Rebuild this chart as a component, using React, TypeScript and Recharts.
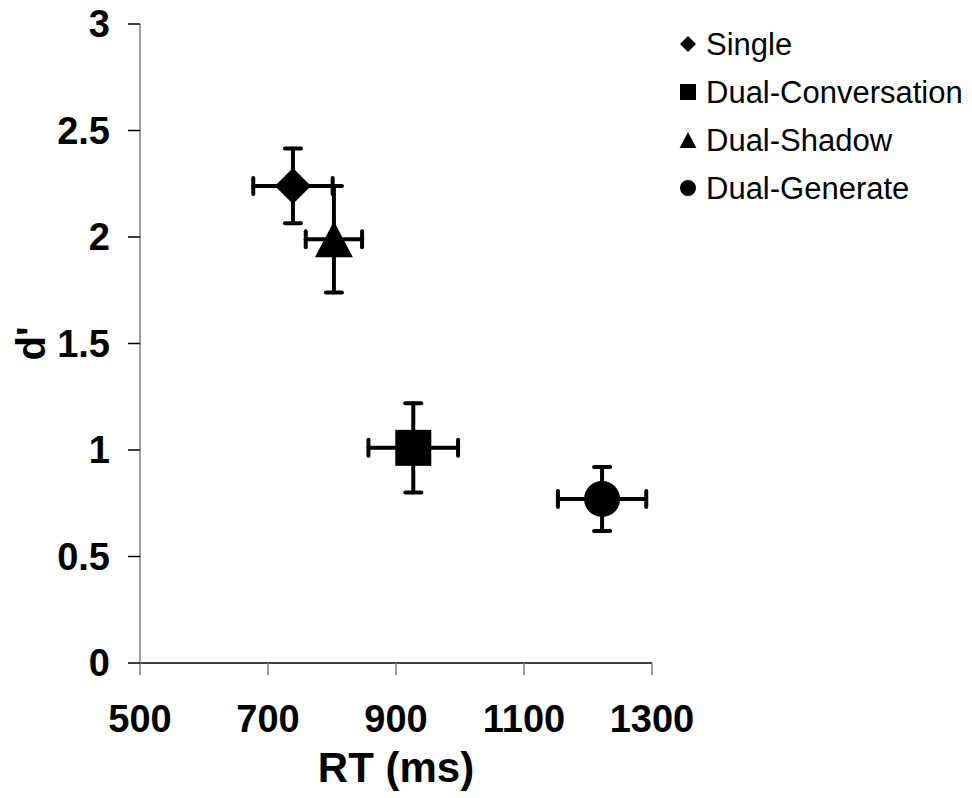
import { ScatterChart, Scatter, XAxis, YAxis, ErrorBar, Legend, Label } from 'recharts'

const conditions = ['Single', 'Dual-Conversation', 'Dual-Shadow', 'Dual-Generate']
const markerKinds = ['diamond', 'square', 'triangle', 'circle']
const rtMeans = [739, 927, 803, 1222]
const rtErrors = [62, 70, 44, 69]
const dPrimeMeans = [2.24, 1.01, 1.99, 0.77]
const dPrimeErrors = [0.175, 0.21, 0.25, 0.15]
const xTicks = [500, 700, 900, 1100, 1300]
const yTicks = [0, 0.5, 1, 1.5, 2, 2.5, 3]

const FONT = '"Liberation Sans", Arial, sans-serif'

function Marker({ kind, cx, cy, r }: { kind: string; cx: number; cy: number; r: number }) {
  if (kind === 'diamond') {
    return <polygon points={`${cx},${cy - r} ${cx + r},${cy} ${cx},${cy + r} ${cx - r},${cy}`} fill="#000" />
  }
  if (kind === 'square') {
    return <rect x={cx - r} y={cy - r} width={r * 2} height={r * 2} fill="#000" />
  }
  if (kind === 'triangle') {
    const w = r * 1.05
    return <polygon points={`${cx},${cy - r} ${cx + w},${cy + r} ${cx - w},${cy + r}`} fill="#000" />
  }
  return <circle cx={cx} cy={cy} r={r} fill="#000" />
}

function LegendContent(props: any) {
  // keep the legend in the order the conditions were defined, not alphabetical
  const items = [...(props.payload ?? [])].sort(
    (a: any, b: any) => conditions.indexOf(a.value) - conditions.indexOf(b.value),
  )
  return (
    <svg width={296} height={220} style={{ display: 'block' }}>
      {items.map((entry: any, i: number) => {
        const idx = conditions.indexOf(entry.value)
        const cy = 20 + i * 48
        return (
          <g key={entry.value}>
            <Marker kind={markerKinds[idx]} cx={12} cy={cy} r={8} />
            <text x={30} y={cy + 11} fontSize={31} fontFamily={FONT} fill="#000">
              {entry.value}
            </text>
          </g>
        )
      })}
    </svg>
  )
}

function YTitle(props: any) {
  const vb = props.viewBox
  const x = vb.x + 45
  const y = vb.y + vb.height / 2
  return (
    <text
      x={x}
      y={y}
      transform={`rotate(-90, ${x}, ${y})`}
      textAnchor="middle"
      fontSize={40}
      fontWeight="bold"
      fontFamily={FONT}
      fill="#000"
    >
      d'
    </text>
  )
}

export default function App() {
  const series = conditions.map((name, i) => ({
    name,
    kind: markerKinds[i],
    data: [{ rt: rtMeans[i], d: dPrimeMeans[i], rtErr: rtErrors[i], dErr: dPrimeErrors[i] }],
  }))

  return (
    <div style={{ position: 'absolute', left: 0, top: 0, background: '#fff' }}>
      <ScatterChart
        width={972}
        height={798}
        margin={{ top: 24, right: 320, bottom: 0, left: 0 }}
        style={{ fontFamily: FONT }}
      >
        <XAxis
          type="number"
          dataKey="rt"
          domain={[500, 1300]}
          ticks={xTicks}
          height={135}
          tickSize={12}
          tickMargin={30}
          axisLine={{ stroke: '#000', strokeWidth: 1.5 }}
          tickLine={{ stroke: '#808080', strokeWidth: 1.5 }}
          tick={{ fill: '#000', fontSize: 38, fontWeight: 'bold' }}
        >
          <Label
            value="RT (ms)"
            position="insideBottom"
            offset={16}
            fill="#000"
            fontSize={42}
            fontWeight="bold"
          />
        </XAxis>
        <YAxis
          type="number"
          dataKey="d"
          domain={[0, 3]}
          ticks={yTicks}
          width={140}
          tickSize={12}
          tickMargin={18}
          axisLine={{ stroke: '#808080', strokeWidth: 1.5 }}
          tickLine={{ stroke: '#000', strokeWidth: 1.5 }}
          tick={{ fill: '#000', fontSize: 38, fontWeight: 'bold' }}
        >
          <Label content={YTitle} />
        </YAxis>
        <Legend
          layout="vertical"
          align="center"
          verticalAlign="middle"
          content={LegendContent}
          wrapperStyle={{ top: 24, left: 676, width: 296, height: 220 }}
        />
        {series.map(s => (
          <Scatter
            key={s.name}
            name={s.name}
            data={s.data}
            fill="#000"
            isAnimationActive={false}
            shape={(p: any) => <Marker kind={s.kind} cx={p.cx} cy={p.cy} r={18} />}
          >
            <ErrorBar dataKey="rtErr" direction="x" width={8} stroke="#000" strokeWidth={4} strokeLinecap="round" />
            <ErrorBar dataKey="dErr" direction="y" width={8} stroke="#000" strokeWidth={4} strokeLinecap="round" />
          </Scatter>
        ))}
      </ScatterChart>
    </div>
  )
}
